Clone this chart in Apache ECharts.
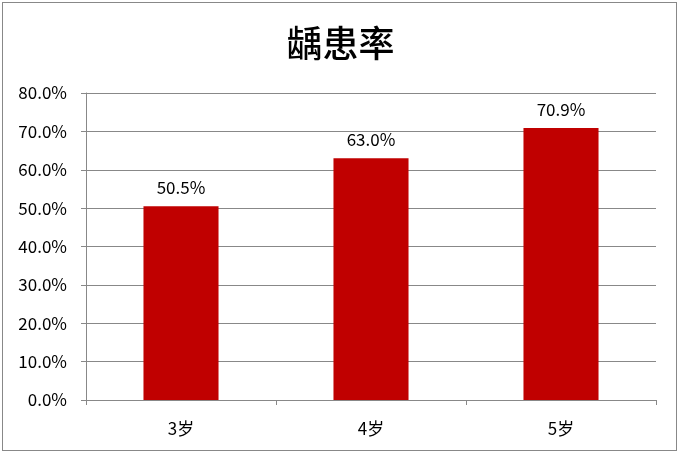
<!DOCTYPE html>
<html><head><meta charset="utf-8">
<script src="https://cdn.jsdelivr.net/npm/echarts@6/dist/echarts.min.js"></script>
<style>html,body{margin:0;padding:0;background:#fff}#c{width:681px;height:456px;}
#b{position:absolute;left:2px;top:2px;width:675px;height:449px;border:1px solid #888;box-sizing:border-box;pointer-events:none}</style>
</head><body><div id="c"></div><div id="b"></div>
<script>
const categories = ['3岁', '4岁', '5岁'];
const values = [50.5, 63.0, 70.9];
const titleText = '龋患率';
const chart = echarts.init(document.getElementById('c'));
const font = '"Noto Sans CJK SC", "Liberation Sans", sans-serif';
chart.setOption({
  animation: false,
  backgroundColor: '#fff',
  title: { text: titleText, left: 'center', top: 20, textStyle: { fontFamily: font, fontSize: 36, fontWeight: 500, color: '#000' } },
  grid: { left: 86, right: 25, top: 93, bottom: 56, containLabel: false },
  xAxis: {
    type: 'category', data: categories,
    axisLine: { lineStyle: { color: '#888' } },
    axisTick: { show: true, length: 5, lineStyle: { color: '#888' } },
    axisLabel: { fontFamily: font, fontSize: 17, color: '#000', margin: 20 }
  },
  yAxis: {
    type: 'value', min: 0, max: 80, interval: 10,
    axisLine: { show: true, lineStyle: { color: '#888' } },
    axisTick: { show: true, length: 5, lineStyle: { color: '#888' } },
    splitLine: { lineStyle: { color: '#888' } },
    axisLabel: { fontFamily: font, fontSize: 17, color: '#000', margin: 19, formatter: v => v.toFixed(1) + '%' }
  },
  series: [{
    type: 'bar', data: values, barWidth: '39.5%',
    itemStyle: { color: '#C00000' },
    label: { show: true, position: 'top', distance: 10, fontFamily: font, fontSize: 17, color: '#000', formatter: p => p.value.toFixed(1) + '%' }
  }]
});
</script></body></html>
